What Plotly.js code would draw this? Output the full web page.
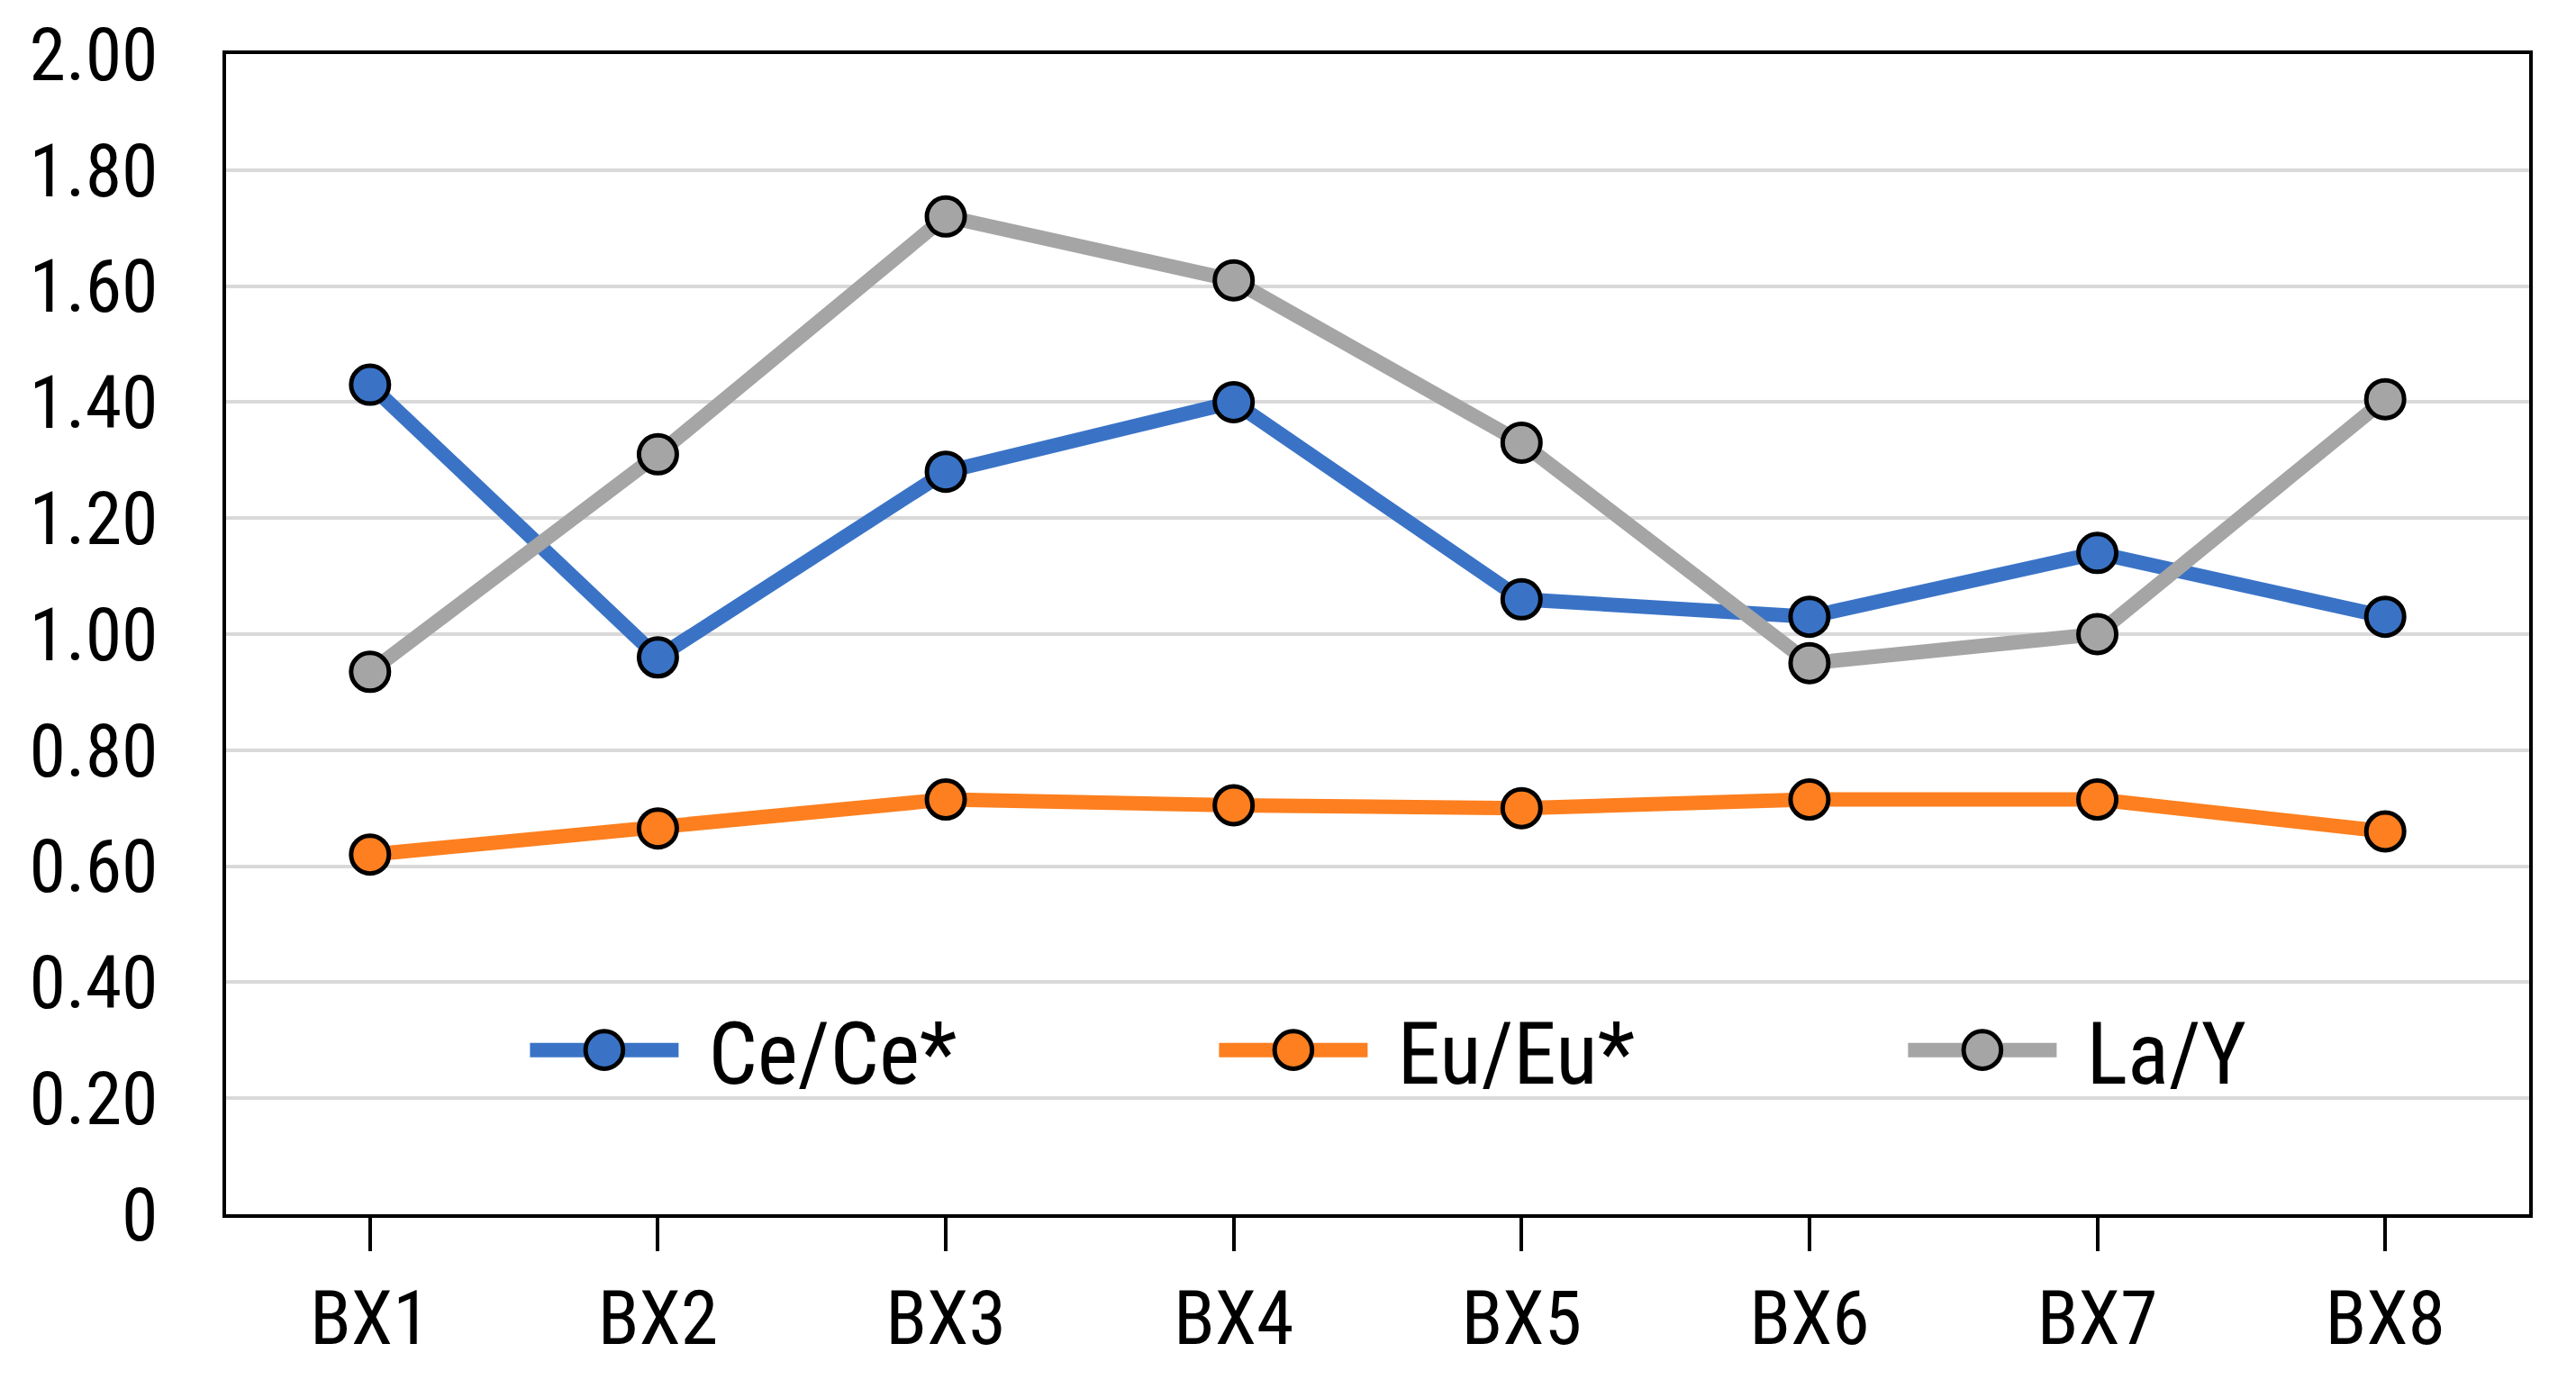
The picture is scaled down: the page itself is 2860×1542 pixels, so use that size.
<!DOCTYPE html>
<html>
<head>
<meta charset="utf-8">
<script src="https://cdn.plot.ly/plotly-3.0.1.min.js"></script>
<style>
  html, body { margin: 0; padding: 0; background: #ffffff; }
  #chart { width: 2860px; height: 1542px; }
</style>
</head>
<body>
<div id="chart"></div>
<script>
const categories = ['BX1', 'BX2', 'BX3', 'BX4', 'BX5', 'BX6', 'BX7', 'BX8'];
const ceValues = [1.43, 0.96, 1.28, 1.40, 1.06, 1.03, 1.14, 1.03];
const euValues = [0.62, 0.665, 0.715, 0.705, 0.70, 0.715, 0.715, 0.66];
const laValues = [0.935, 1.31, 1.72, 1.61, 1.33, 0.95, 1.00, 1.405];
const seriesNames = ['Ce/Ce*', 'Eu/Eu*', 'La/Y'];
const seriesColors = ['#3A73C6', '#FD7F1F', '#A5A5A5'];
const yTickVals = [0, 0.2, 0.4, 0.6, 0.8, 1.0, 1.2, 1.4, 1.6, 1.8, 2.0];
const yTickText = ['0', '0.20', '0.40', '0.60', '0.80', '1.00', '1.20', '1.40', '1.60', '1.80', '2.00'];

const FONT = '"Liberation Sans Narrow", "Roboto Condensed", Roboto, sans-serif';

function mkTrace(name, vals, color) {
  return {
    type: 'scatter',
    mode: 'lines+markers',
    name: name,
    x: categories,
    y: vals,
    line: { color: color, width: 16 },
    marker: { symbol: 'circle', size: 42, color: color, line: { color: '#000000', width: 5 } },
    cliponaxis: false
  };
}

const data = [
  mkTrace(seriesNames[0], ceValues, seriesColors[0]),
  mkTrace(seriesNames[1], euValues, seriesColors[1]),
  mkTrace(seriesNames[2], laValues, seriesColors[2])
];

const layout = {
  width: 2860,
  height: 1542,
  paper_bgcolor: '#ffffff',
  plot_bgcolor: '#ffffff',
  margin: { l: 251, r: 52, t: 60, b: 194, autoexpand: false },
  font: { family: FONT, size: 80, color: '#000000' },
  showlegend: true,
  legend: {
    orientation: 'h',
    x: 0.130, xanchor: 'left',
    y: 0.1415, yanchor: 'middle',
    bgcolor: 'rgba(0,0,0,0)',
    font: { family: FONT, size: 96, color: '#000000' },
    itemwidth: 165,
    entrywidth: 585,
    entrywidthmode: 'pixels',
    traceorder: 'normal'
  },
  xaxis: {
    type: 'category',
    range: [-0.5, 7.5],
    automargin: false,
    showgrid: false,
    zeroline: false,
    showline: true,
    linecolor: '#000000',
    linewidth: 4,
    mirror: true,
    ticks: 'outside',
    ticklen: 37,
    tickwidth: 4,
    tickcolor: '#000000',
    ticklabelstandoff: 2,
    tickfont: { family: FONT, size: 84, color: '#000000' }
  },
  yaxis: {
    range: [0, 2.0],
    automargin: false,
    tickvals: yTickVals,
    ticktext: yTickText,
    showgrid: true,
    gridcolor: '#D9D9D9',
    gridwidth: 4,
    zeroline: false,
    showline: true,
    linecolor: '#000000',
    linewidth: 4,
    mirror: true,
    ticks: '',
    ticklabelstandoff: 55,
    tickfont: { family: FONT, size: 82, color: '#000000' }
  }
};

function enlargeLegend() {
  document.querySelectorAll('.legend .legendpoints path.scatterpts').forEach(function (p) {
    const t = p.getAttribute('transform') || '';
    if (t.indexOf('scale') === -1) p.setAttribute('transform', t + ' scale(2.6)');
    p.style.strokeWidth = (5 / 2.6) + 'px';
  });
  document.querySelectorAll('.legend .legendlines path').forEach(function (p) {
    p.style.strokeWidth = '16px';
  });
  document.querySelectorAll('.legend text.legendtext').forEach(function (t) {
    const x = parseFloat(t.getAttribute('x') || '0');
    t.setAttribute('x', String(x + 28));
  });
}

Plotly.newPlot('chart', data, layout, { staticPlot: true, displayModeBar: false }).then(enlargeLegend);
</script>
</body>
</html>
